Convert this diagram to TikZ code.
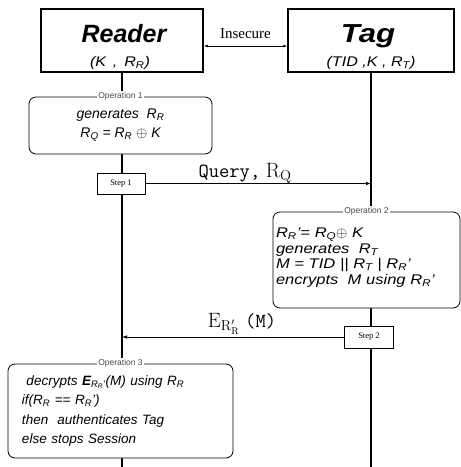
\documentclass[tikz,border=0pt]{standalone}
\usepackage{amsmath}
\usepackage[no-math]{fontspec}
\setmainfont{Liberation Sans}
\newfontfamily\seriffont{Liberation Serif}
\usetikzlibrary{arrows.meta}

\tikzset{
  party/.style={draw, line width=1.4pt, fill=white, minimum width=#1, minimum height=63pt, inner sep=0pt},
  partyname/.style={anchor=base, inner sep=0pt, font=\fontsize{25}{25}\selectfont\bfseries\itshape},
  partykeys/.style={anchor=base, inner sep=0pt, font=\fontsize{14}{14}\selectfont\itshape\addfontfeature{FakeStretch=1.15}},
  opbox/.style={draw, line width=0.8pt, fill=white, rounded corners=7pt, inner sep=4pt},
  optitle/.style={fill=white, inner sep=1.5pt, font=\fontsize{8.5}{8.5}\selectfont, text=black!70},
  stepbox/.style={draw, line width=0.8pt, fill=white, minimum width=#1, minimum height=21pt, inner sep=0pt, font=\seriffont\fontsize{8.5}{8.5}\selectfont},
  lifeline/.style={line width=2pt},
  msg/.style={line width=0.8pt, -{Latex[length=5pt,width=3.5pt]}}
}
\newcommand{\Rsub}[1]{\textit{R}\textsubscript{\textit{#1}}}

\begin{document}
\begin{tikzpicture}[x=1pt, y=-1pt]
  \useasboundingbox (0,0) rectangle (461,467);

  % Draw the two parties
  \node[party=162pt] (reader) at (122,40.5) {};
  \node[party=166pt] (tag) at (371,40.5) {};
  \node[partyname] (readername) at (124,42) {Reader};
  \node[partykeys] (readerkeys) at (120,66) {(K \,,\, \Rsub{R})};
  \node[partyname, font=\fontsize{26}{26}\selectfont\bfseries\itshape\addfontfeature{FakeStretch=1.2}] (tagname) at (368,42) {Tag};
  \node[partykeys] (tagkeys) at (371,66) {(TID ,K , \Rsub{T})};
  \coordinate (readerend) at (122,467);
  \coordinate (tagend) at (371,467);

  % Draw the lifelines
  \draw[lifeline] (reader.south) -- (readerend);
  \draw[lifeline] (tag.south) -- (tagend);

  % Insecure channel
  \draw[line width=0.8pt, {Latex[length=4pt,width=3pt]}-{Latex[length=4pt,width=3pt]}] ([yshift=-5.5pt]reader.east) -- ([yshift=-5.5pt]tag.west)
    node[midway, above=4pt, font=\seriffont\fontsize{15}{15}\selectfont] (insecure) {Insecure};

  % Operation 1
  \node[opbox, minimum width=183pt, minimum height=57pt, align=center, font=\fontsize{14}{20}\selectfont\itshape] (op1) at (120.5,125.5)
    {generates \ \Rsub{R}\\[-1pt]\Rsub{Q} = \Rsub{R} $\oplus$ K};
  \node[optitle] (op1title) at (op1.north) {Operation 1};

  % Step 1
  \node[stepbox=48pt] (step1) at (121,183.5) {Step 1};
  \coordinate (query) at (371,183.5);
  \draw[msg] (step1.east) -- (query);
  \node[anchor=base, font=\fontsize{20}{20}\selectfont] (querylabel) at (245,177) {\texttt{Query,} $\mathrm{R}_{\mathrm{Q}}$};

  % Operation 2
  \node[opbox, minimum width=187pt, minimum height=96pt, align=left, text width=181pt, inner xsep=3pt, font=\fontsize{14}{15.5}\selectfont\itshape\addfontfeature{FakeStretch=1.18}] (op2) at (366.5,260)
    {\Rsub{R}'= \Rsub{Q}$\oplus$ K\\
     generates \ \Rsub{T}\\
     M = TID || \Rsub{T} | \Rsub{R}'\\
     encrypts \ M using \Rsub{R}'\rule[-8pt]{0pt}{8pt}};
  \node[optitle] (op2title) at (op2.north) {Operation 2};

  % Step 2
  \node[stepbox=49pt, minimum height=22pt] (step2) at (369,337) {Step 2};
  \coordinate (reply) at (122,337);
  \draw[msg] (step2.west) -- (reply);
  \node[anchor=base, font=\fontsize{20}{20}\selectfont] (replylabel) at (242,327) {$\mathrm{E}_{\mathrm{R}_{\mathrm{R}}'}$ \texttt{(M)}};

  % Operation 3
  \node[opbox, minimum width=225pt, minimum height=94pt, align=left, text width=197pt, inner xsep=14pt, font=\fontsize{13.5}{19.5}\selectfont\itshape] (op3) at (120.5,411)
    {\ decrypts \textit{\textbf{E}}\textsubscript{\Rsub{R}'}(M) using \Rsub{R}\\
     if(\Rsub{R} == \Rsub{R}')\\
     then \ authenticates Tag\\
     else stops Session};
  \node[optitle] (op3title) at (op3.north) {Operation 3};

\end{tikzpicture}
\end{document}
